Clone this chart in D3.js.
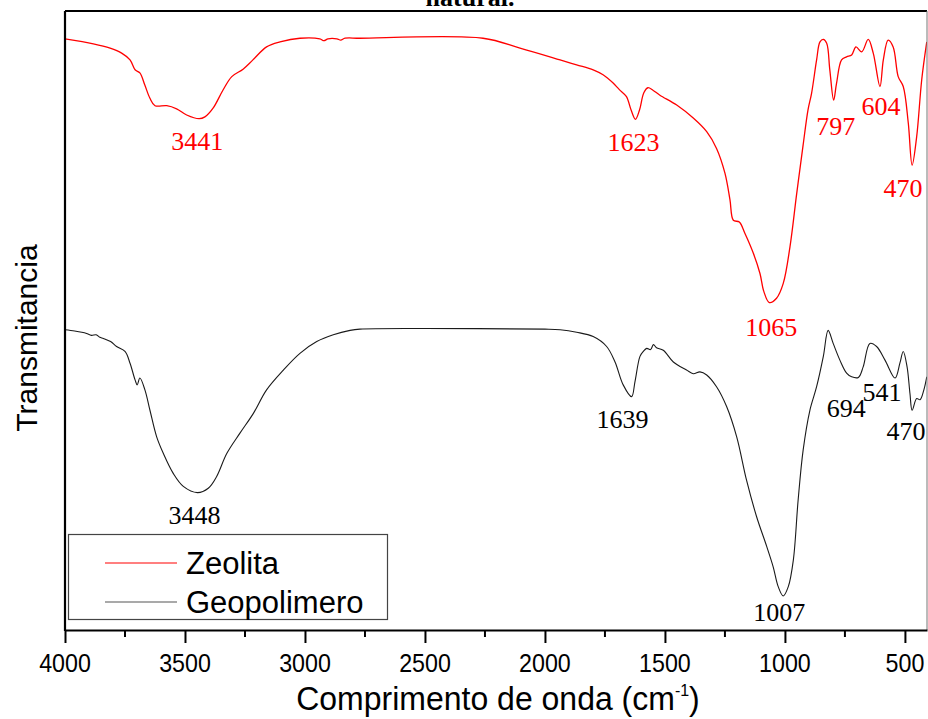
<!DOCTYPE html>
<html>
<head>
<meta charset="utf-8">
<script src="https://cdn.jsdelivr.net/npm/d3@7"></script>
<style>
  body { margin: 0; background: #fff; }
  svg { display: block; }
</style>
</head>
<body>
<svg id="chart" width="928" height="719"></svg>
<script>
// FTIR spectra: [wavenumber (cm-1), transmittance (arb. units)]
const zeolita = [
  [4000,95.5],[3882,94.7],[3812,94.0],[3764,93.2],[3729,92.1],[3708,90.5],[3688,90.0],[3667,88.0],
  [3646,85.9],[3625,84.7],[3576,84.7],[3535,84.2],[3493,83.2],[3441,82.6],[3417,82.9],[3383,84.3],
  [3342,87.2],[3305,89.4],[3258,90.6],[3217,92.1],[3160,94.2],[3104,95.0],[3021,95.6],[2938,95.5],
  [2921,95.2],[2904,95.5],[2867,95.5],[2851,95.3],[2833,95.6],[2771,95.6],[2258,95.6],[2104,94.0],
  [1937,92.1],[1868,91.3],[1799,90.5],[1758,89.7],[1717,88.4],[1690,87.3],[1661,86.2],[1641,84.0],
  [1623,82.5],[1606,84.0],[1588,86.8],[1571,87.6],[1550,87.2],[1521,86.4],[1451,84.8],[1382,82.7],
  [1326,80.5],[1285,77.8],[1250,73.8],[1229,69.5],[1215,66.2],[1190,65.9],[1167,64.1],[1132,60.9],
  [1104,57.6],[1088,54.7],[1065,52.9],[1035,53.6],[1007,56.0],[979,61.9],[951,70.5],[924,78.4],
  [904,84.0],[889,86.7],[868,92.1],[854,95.0],[840,95.4],[826,94.8],[813,90.5],[797,85.6],
  [785,88.3],[764,92.1],[743,92.6],[722,92.9],[704,94.2],[680,93.4],[653,95.4],[632,93.2],
  [604,87.8],[590,92.1],[570,95.3],[549,94.2],[528,89.4],[507,87.8],[486,81.9],[470,75.1],
  [451,79.7],[430,88.9],[409,95.0]
];

const geopolimero = [
  [4000,48.5],[3960,48.3],[3930,48.1],[3910,47.9],[3890,47.6],[3870,47.7],[3855,47.3],[3840,47.1],
  [3810,46.6],[3785,45.8],[3750,45.0],[3729,43.1],[3708,40.4],[3699,39.6],[3688,40.7],[3667,38.8],
  [3646,35.5],[3618,31.2],[3590,28.5],[3549,25.3],[3507,23.2],[3448,22.2],[3403,22.9],[3368,24.8],
  [3326,28.5],[3271,31.8],[3215,35.0],[3160,38.8],[3090,42.0],[3021,44.7],[2951,46.6],[2882,47.7],
  [2812,48.4],[2771,48.6],[2500,48.7],[2000,48.6],[1937,48.5],[1868,48.1],[1799,47.4],[1743,45.8],
  [1708,43.3],[1674,39.6],[1639,37.7],[1625,40.1],[1604,44.2],[1590,45.0],[1576,45.5],[1560,45.3],
  [1548,46.1],[1535,45.6],[1507,45.2],[1465,43.3],[1410,42.0],[1382,41.4],[1354,41.7],[1326,41.2],
  [1285,39.3],[1243,36.1],[1201,31.2],[1160,24.2],[1118,18.3],[1076,13.5],[1049,10.2],[1028,7.0],
  [1007,5.5],[986,7.0],[965,11.3],[945,21.0],[924,29.1],[896,35.5],[868,39.3],[840,44.2],
  [820,48.4],[799,46.3],[771,43.6],[743,41.5],[722,40.9],[694,40.8],[674,42.5],[646,46.3],
  [618,45.8],[583,43.6],[541,40.7],[521,43.1],[507,45.0],[491,42.5],[479,38.2],[470,35.5],
  [451,37.4],[437,37.2],[421,38.8],[409,40.9]
];

// Labelled band minima
const zeolitaPeaks = [3441, 1623, 1065, 797, 604, 470];
const geopolimeroPeaks = [3448, 1639, 1007, 694, 541, 470];

const majorTicks = [4000, 3500, 3000, 2500, 2000, 1500, 1000, 500];
const minorTicks = [3750, 3250, 2750, 2250, 1750, 1250, 750];

const seriesNames = ["Zeolita", "Geopolimero"];
const seriesColors = ["#ff0000", "#1a1a1a"];

// Label placement relative to each band minimum (dx, dy in px)
const zeolitaLabelOffsets = [[-2, 31], [-2, 32], [2, 33], [2, 35], [1, 28], [-9, 32]];
const geopolimeroLabelOffsets = [[-3, 31], [-9, 31], [-4, 25], [-12, 40], [-13, 23], [-6, 30]];

const svg = d3.select("#chart");
const plot = { left: 65, right: 927, top: 11, bottom: 630 };

const x = d3.scaleLinear().domain([4000, 408]).range([plot.left, plot.right]);
const y = d3.scaleLinear().domain([0, 100]).range([plot.bottom, plot.top]);

const serif = "'Liberation Serif', 'Times New Roman', serif";
const sans = "'Liberation Sans', Arial, sans-serif";

// Clip for the spectra
svg.append("clipPath").attr("id", "plotClip")
  .append("rect")
  .attr("x", plot.left).attr("y", plot.top)
  .attr("width", plot.right - plot.left).attr("height", plot.bottom - plot.top);

const line = d3.line()
  .x(d => x(d[0]))
  .y(d => y(d[1]))
  .curve(d3.curveCatmullRom.alpha(0.5));

const g = svg.append("g").attr("clip-path", "url(#plotClip)");
g.append("path").datum(zeolita)
  .attr("d", line).attr("fill", "none")
  .attr("stroke", seriesColors[0]).attr("stroke-width", 1.3);
g.append("path").datum(geopolimero)
  .attr("d", line).attr("fill", "none")
  .attr("stroke", seriesColors[1]).attr("stroke-width", 1.1);

// Peak labels
function drawPeakLabels(data, peaks, offsets, color) {
  const lookup = new Map(data.map(d => [d[0], d[1]]));
  svg.append("g").selectAll("text").data(peaks).join("text")
    .attr("x", (p, i) => x(p) + offsets[i][0])
    .attr("y", (p, i) => y(lookup.get(p)) + offsets[i][1])
    .attr("text-anchor", "middle")
    .attr("font-family", serif)
    .attr("font-size", 26)
    .attr("fill", color)
    .text(p => p);
}
drawPeakLabels(zeolita, zeolitaPeaks, zeolitaLabelOffsets, "#ff0000");
drawPeakLabels(geopolimero, geopolimeroPeaks, geopolimeroLabelOffsets, "#000");

// Frame: top border, right border, left axis line
svg.append("line")
  .attr("x1", plot.left).attr("x2", plot.right)
  .attr("y1", plot.top).attr("y2", plot.top)
  .attr("stroke", "#000").attr("stroke-width", 2.2);
svg.append("line")
  .attr("x1", plot.right).attr("x2", plot.right)
  .attr("y1", plot.top).attr("y2", plot.bottom)
  .attr("stroke", "#777").attr("stroke-width", 1);
svg.append("line")
  .attr("x1", plot.left).attr("x2", plot.left)
  .attr("y1", plot.top).attr("y2", plot.bottom + 1)
  .attr("stroke", "#000").attr("stroke-width", 2.2);

// Bottom axis (tick marks from d3.axisBottom, labels drawn narrow below)
const xAxis = svg.append("g")
  .attr("transform", `translate(0,${plot.bottom})`)
  .call(d3.axisBottom(x).tickValues(majorTicks).tickSize(13).tickSizeOuter(0)
    .tickFormat(d3.format("d")));
xAxis.select(".domain").attr("stroke", "#000").attr("stroke-width", 2.2);
xAxis.selectAll(".tick line").attr("stroke", "#000").attr("stroke-width", 2);
xAxis.selectAll(".tick text").remove();

svg.append("g")
  .attr("transform", `translate(0,${plot.bottom})`)
  .selectAll("line").data(minorTicks).join("line")
  .attr("x1", d => x(d)).attr("x2", d => x(d))
  .attr("y1", 0).attr("y2", 7)
  .attr("stroke", "#000").attr("stroke-width", 2);

svg.append("g").selectAll("text").data(majorTicks).join("text")
  .attr("transform", d => `translate(${x(d)},672) scale(0.93,1.06)`)
  .attr("text-anchor", "middle")
  .attr("font-family", sans).attr("font-size", 25).attr("fill", "#000")
  .text(d3.format("d"));

// Axis titles
const xTitle = svg.append("text")
  .attr("transform", "translate(498,710) scale(1,1.05)")
  .attr("text-anchor", "middle")
  .attr("font-family", sans).attr("font-size", 32).attr("fill", "#000");
xTitle.append("tspan").text("Comprimento de onda (cm");
xTitle.append("tspan").attr("font-size", 16).attr("dy", -13).text("-1");
xTitle.append("tspan").attr("dy", 13).text(")");

svg.append("text")
  .attr("transform", "translate(37,338) rotate(-90)")
  .attr("text-anchor", "middle")
  .attr("font-family", sans).attr("font-size", 30).attr("fill", "#000")
  .text("Transmitancia");

// Caption fragment above the frame
svg.append("text")
  .attr("x", 470).attr("y", 6)
  .attr("text-anchor", "middle")
  .attr("font-family", serif).attr("font-size", 26).attr("font-weight", "bold")
  .attr("fill", "#000")
  .text("natural.");

// Legend
const legend = svg.append("g");
legend.append("rect")
  .attr("x", 68.5).attr("y", 534.5).attr("width", 319).attr("height", 85)
  .attr("fill", "#fff").attr("stroke", "#444").attr("stroke-width", 1.2);
const legendRows = [563, 602];
seriesNames.forEach((name, i) => {
  legend.append("line")
    .attr("x1", 105).attr("x2", 177)
    .attr("y1", legendRows[i]).attr("y2", legendRows[i])
    .attr("stroke", i === 0 ? seriesColors[0] : "#555").attr("stroke-width", 1.2);
  legend.append("text")
    .attr("x", 186).attr("y", legendRows[i] + 11)
    .attr("font-family", sans).attr("font-size", 31).attr("fill", "#000")
    .text(name);
});
</script>
</body>
</html>
